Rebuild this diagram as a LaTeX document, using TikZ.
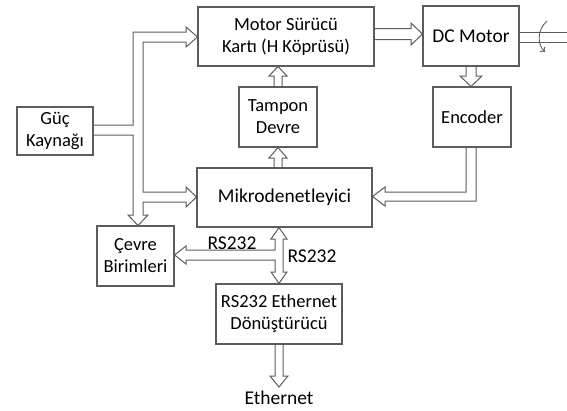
\documentclass[tikz,border=0pt]{standalone}
\usepackage{fontspec}
\setmainfont{Carlito}
\usepackage{tikz}
\usetikzlibrary{arrows.meta,calc}
\definecolor{cizgi}{HTML}{5C5C5C}
\newcommand{\kucukyazi}{\fontsize{18.5}{22}\selectfont}
\newcommand{\buyukyazi}{\fontsize{19.5}{22}\selectfont}
\tikzset{
  kutu/.style={
    rectangle, draw=cizgi, line width=1.1pt, fill=white,
    minimum width=#1, minimum height=60pt,
    font=\kucukyazi, align=center, inner sep=0pt
  },
  kutu/.default=78pt,
  blokok/.style={draw=cizgi, line width=1pt, line join=miter},
  etiket/.style={font=\buyukyazi, inner sep=0pt},
}

\begin{document}
\begin{tikzpicture}[x=1pt, y=-1pt]
  \useasboundingbox (0,0) rectangle (567,410);
  % kutular
  \node[kutu=176pt, minimum height=59pt] (msk) at (286,36.5) {Motor Sürücü\\Kartı (H Köprüsü)};
  \node[kutu=96pt, font=\buyukyazi] (dcm) at (471,36) {DC Motor};
  \node[kutu] (tmp) at (278,117) {Tampon\\Devre};
  \node[kutu] (enc) at (472,117) {Encoder};
  \node[kutu=76pt, minimum height=48pt] (guc) at (55,131) {Güç\\Kaynağı};
  \node[kutu=175pt, minimum height=59pt, font=\buyukyazi] (mcu) at (284.5,197.5) {Mikrodenetleyici};
  \node[kutu=77pt] (cev) at (135.5,256) {Çevre\\Birimleri};
  \node[kutu=126pt] (rse) at (279,314) {RS232 Ethernet\\Dönüştürücü};
  \node[etiket, anchor=north, inner sep=4pt] (eth) at (279,387) {Ethernet};
  \node[etiket] (rs-sol) at (232,243) {RS232};
  \node[etiket] (rs-sag) at (312,256) {RS232};
  \coordinate (mil) at (567,37);

  % guc hatti
  \draw[blokok] (guc.east |- 0,125) -- (133,125) -- (133,32) -- (186,32) -- (186,27)
    -- (msk.west |- 0,37) -- (186,47) -- (186,42) -- (143,42) -- (143,192)
    -- (186,192) -- (186,187) -- (mcu.west |- 0,197) -- (186,207) -- (186,202)
    -- (143,202) -- (143,215) -- (148,215) -- (cev.north -| 138,0) -- (128,215)
    -- (133,215) -- (133,135) -- (guc.east |- 0,135);

  % surucu -> motor -> encoder -> mikro
  \draw[blokok] (msk.east |- 0,28.5) -- (411,28.5) -- (411,23) -- (dcm.west |- 0,34)
    -- (411,45) -- (411,39.5) -- (msk.east |- 0,39.5);
  \draw[blokok] (dcm.south -| 466,0) -- (466,76) -- (460,76) -- (enc.north -| 471,0)
    -- (482,76) -- (476,76) -- (dcm.south -| 476,0);
  \draw[blokok] (enc.south -| 466,0) -- (466,192) -- (385,192) -- (385,187)
    -- (mcu.east |- 0,196.5) -- (385,206) -- (385,201) -- (476,201) -- (enc.south -| 476,0);

  % tampon
  \draw[blokok] (tmp.north -| 274,0) -- (274,76) -- (269,76) -- (msk.south -| 278,0)
    -- (287,76) -- (282,76) -- (tmp.north -| 282,0);
  \draw[blokok] (mcu.north -| 274,0) -- (274,158) -- (269,158) -- (tmp.south -| 278,0)
    -- (287,158) -- (282,158) -- (mcu.north -| 282,0);

  % RS232
  \draw[blokok] (mcu.south -| 279,0) -- (287,239) -- (283,239) -- (283,272) -- (287,272)
    -- (rse.north -| 279,0) -- (271,272) -- (275,272) -- (275,260) -- (186,260)
    -- (186,264) -- (cev.east |- 0,255) -- (186,246) -- (186,250) -- (275,250)
    -- (275,239) -- (271,239) -- cycle;
  \draw[blokok] (rse.south -| 275,0) -- (275,376) -- (270,376) -- (eth.north)
    -- (288,376) -- (283,376) -- (rse.south -| 283,0);

  % motor mili
  \draw[blokok] (dcm.east |- 0,32) -- (mil |- 0,32);
  \draw[blokok] (dcm.east |- 0,42) -- (mil |- 0,42);
  \draw[cizgi, line width=0.9pt, -{To[length=4pt,width=7pt]}]
    (547,21) .. controls (537,30) and (537,44) .. (545,52);
\end{tikzpicture}
\end{document}
